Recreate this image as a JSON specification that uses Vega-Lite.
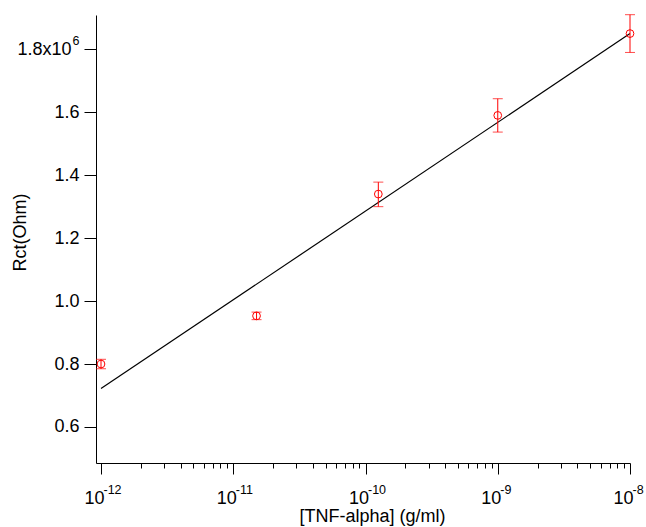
{
  "$schema": "https://vega.github.io/schema/vega-lite/v6.json",
  "autosize": "none",
  "padding": {"left": 96, "top": 15, "right": 16, "bottom": 64},
  "width": 534,
  "height": 448,
  "background": "white",
  "config": {
    "view": {"stroke": null},
    "font": "Liberation Sans",
    "axis": {"grid": false, "domainColor": "#000000", "tickColor": "#000000", "labelColor": "#000000", "titleColor": "#000000", "labelFont": "Liberation Sans", "titleFont": "Liberation Sans", "labelFontSize": 18, "titleFontSize": 18, "titleFontWeight": "normal", "domainWidth": 1, "tickWidth": 1, "labelOverlap": false, "labelFlush": false, "labelBound": false}
  },
  "datasets": {
    "pts": [
      {"conc": 1e-12, "r": 800000, "lo": 785000, "hi": 815000},
      {"conc": 1.5e-11, "r": 953000, "lo": 941000, "hi": 965000},
      {"conc": 1.25e-10, "r": 1340000, "lo": 1300000, "hi": 1378000},
      {"conc": 1e-9, "r": 1590000, "lo": 1537000, "hi": 1643000},
      {"conc": 1e-8, "r": 1850000, "lo": 1790000, "hi": 1910000}
    ],
    "fit": [
      {"conc": 1e-12, "fit": 722000},
      {"conc": 1e-8, "fit": 1850000}
    ]
  },
  "resolve": {"axis": {"x": "independent", "y": "independent"}},
  "layer": [
    {
      "data": {"name": "fit"},
      "mark": {"type": "line", "color": "#000000", "strokeWidth": 1.2, "clip": false},
      "encoding": {
        "x": {"field": "conc", "type": "quantitative", "scale": {"type": "log", "domain": [9.166e-13, 1e-8], "nice": false},
          "axis": {"orient": "bottom", "values": [1e-12, 1e-11, 1e-10, 1e-9, 1e-8], "tickSize": 11, "labelPadding": 15, "labelAlign": "right", "labelOffset": 3, "labelExpr": "'10'",
            "title": "[TNF-alpha] (g/ml)", "titleX": 276, "titleY": 58, "titleBaseline": "alphabetic", "titleAlign": "center"}},
        "y": {"field": "fit", "type": "quantitative", "scale": {"domain": [485500, 1909000], "nice": false, "zero": false},
          "axis": {"orient": "left", "values": [600000, 800000, 1000000, 1200000, 1400000, 1600000, 1800000], "tickSize": 12, "labelPadding": 5, "title": "Rct(Ohm)", "titleX": -71, "titleY": 217, "titleAngle": 270, "titleBaseline": "alphabetic", "titleAlign": "center",
            "labelExpr": "datum.value > 1700000 ? '' : format(datum.value/1000000, '.1f')"}}
      }
    },
    {
      "data": {"name": "pts"},
      "mark": {"type": "errorbar", "ticks": {"size": 10, "color": "#ff0000", "strokeWidth": 1}, "rule": {"color": "#ff0000", "strokeWidth": 1}, "clip": false},
      "encoding": {
        "x": {"field": "conc", "type": "quantitative",
          "axis": {"orient": "bottom", "values": [2e-12, 3e-12, 4e-12, 5e-12, 6e-12, 7e-12, 8e-12, 9e-12, 2e-11, 3e-11, 4e-11, 5e-11, 6e-11, 7e-11, 8e-11, 9e-11, 2e-10, 3e-10, 4e-10, 5e-10, 6e-10, 7e-10, 8e-10, 9e-10, 2e-9, 3e-9, 4e-9, 5e-9, 6e-9, 7e-9, 8e-9, 9e-9], "tickSize": 5, "labels": false, "domain": false, "title": null}},
        "y": {"field": "lo", "type": "quantitative",
          "axis": {"orient": "left", "values": [1800000], "ticks": false, "tickSize": 0, "domain": false, "title": null, "labelPadding": 17, "labelFontSize": 12.5, "labelOffset": -9, "labelExpr": "'6'"}},
        "y2": {"field": "hi"}
      }
    },
    {
      "data": {"name": "pts"},
      "mark": {"type": "point", "shape": "circle", "filled": false, "color": "#ff0000", "strokeWidth": 1, "size": 60, "opacity": 1},
      "encoding": {
        "x": {"field": "conc", "type": "quantitative",
          "axis": {"orient": "bottom", "values": [1e-12, 1e-11, 1e-10, 1e-9, 1e-8], "ticks": false, "tickSize": 0, "domain": false, "title": null, "labelPadding": 20.4, "labelFontSize": 12.5, "labelAlign": "left", "labelOffset": 2,
            "labelExpr": "'-' + format(-round(log(datum.value)/LN10), 'd')"}},
        "y": {"field": "r", "type": "quantitative",
          "axis": {"orient": "left", "values": [1800000], "ticks": false, "tickSize": 0, "domain": false, "title": null, "labelPadding": 25, "labelExpr": "'1.8x10'"}}
      }
    }
  ]
}
